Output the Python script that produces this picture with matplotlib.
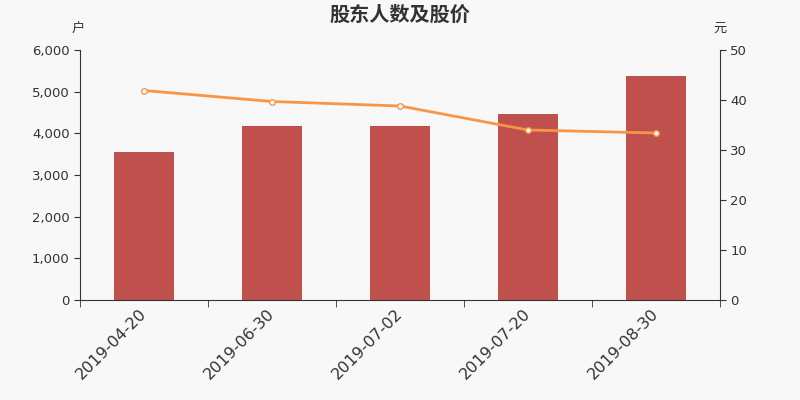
import matplotlib.pyplot as plt
import numpy as np

plt.rcParams['font.family'] = ['DejaVu Sans', 'Noto Sans CJK SC']

dates = ["2019-04-20", "2019-06-30", "2019-07-02", "2019-07-20", "2019-08-30"]
holders = [3552, 4168, 4168, 4464, 5368]
price = [41.9, 39.7, 38.8, 34.0, 33.4]

bg = "#f8f8f8"
cjk = ['Noto Sans CJK SC', 'DejaVu Sans']
fig = plt.figure(figsize=(8, 4), dpi=100, facecolor=bg)
ax = fig.add_axes([0.1, 0.25, 0.8, 0.625], facecolor=bg)
x = np.arange(len(dates))

ax.bar(x, holders, width=0.47, color="#c0504d", zorder=2)
ax.set_xlim(-0.5, len(dates) - 0.5)
ax.set_ylim(0, 6000)
ax.set_yticks(range(0, 6001, 1000))
ax.set_yticklabels([f"{v:,}" for v in range(0, 6001, 1000)])
ax.set_xticks(x)
ax.set_xticklabels(dates, rotation=45, ha="right", va="center", rotation_mode="anchor",
                   fontsize=11.5, color="#333333")
ax.tick_params(axis="x", length=0, pad=8)
ax.set_xticks(np.arange(-0.5, len(dates), 1), minor=True)
ax.tick_params(axis="x", which="minor", length=5, color="#333333")
ax.tick_params(axis="y", labelsize=9.5, colors="#333333", length=4)

for s in ["top", "right"]:
    ax.spines[s].set_visible(False)
ax.spines["left"].set_color("#333333")
ax.spines["bottom"].set_color("#333333")

ax2 = ax.twinx()
ax2.plot(x, price, color="#f79646", linewidth=2, marker="o", markersize=4,
         markerfacecolor="white", markeredgecolor="#f79646", markeredgewidth=1, zorder=3)
ax2.set_ylim(0, 50)
ax2.set_yticks(range(0, 51, 10))
ax2.tick_params(axis="y", labelsize=9.5, colors="#333333", length=4)
for s in ["top", "left", "bottom"]:
    ax2.spines[s].set_visible(False)
ax2.spines["right"].set_color("#333333")

fig.text(0.5, 0.965, "股东人数及股价", ha="center", va="center", fontsize=14.5,
         fontweight="bold", color="#333333", family=cjk)
fig.text(0.098, 0.93, "户", ha="center", va="center", fontsize=9.5, color="#333333", family=cjk)
fig.text(0.9, 0.93, "元", ha="center", va="center", fontsize=9.5, color="#333333", family=cjk)

fig.savefig("out.png", dpi=100, facecolor=bg)
